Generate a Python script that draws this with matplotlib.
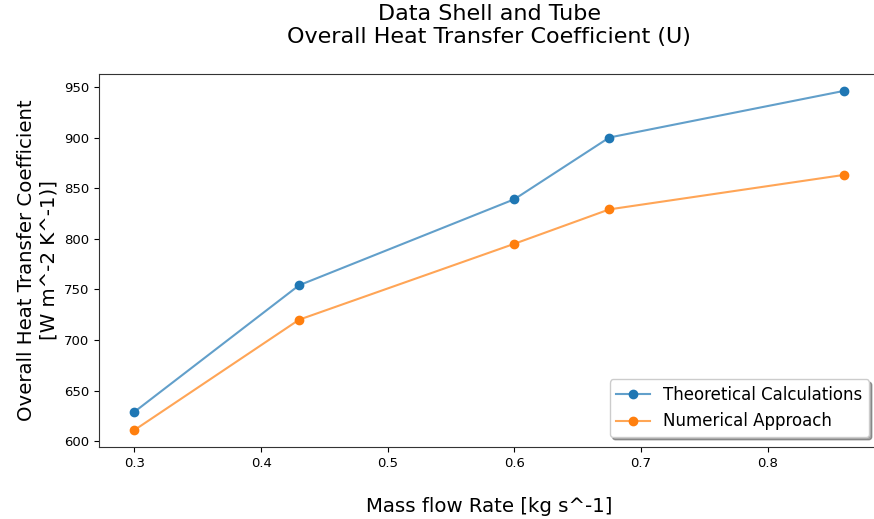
import matplotlib
matplotlib.use("Agg")
import matplotlib.pyplot as plt
from matplotlib.lines import Line2D

mass_flow = [0.30, 0.43, 0.60, 0.675, 0.86]
u_theoretical = [629, 754, 839, 900, 946]
u_numerical = [611, 720, 795, 829, 863]

fig = plt.figure(figsize=(8.74, 5.19), dpi=100)
ax = fig.add_axes([99/874, 1-447/519, 780/874, 373/519])

ax.plot(mass_flow, u_theoretical, color="#1f77b4", alpha=0.7, lw=1.5)
ax.plot(mass_flow, u_numerical, color="#ff7f0e", alpha=0.7, lw=1.5)
ax.plot(mass_flow, u_theoretical, "o", color="#1f77b4", ms=6)
ax.plot(mass_flow, u_numerical, "o", color="#ff7f0e", ms=6)

h1 = Line2D([], [], color=(0.12, 0.47, 0.71, 0.7), marker="o", ms=6, lw=1.5,
            markerfacecolor="#1f77b4", markeredgecolor="#1f77b4")
h2 = Line2D([], [], color=(1.0, 0.5, 0.05, 0.7), marker="o", ms=6, lw=1.5,
            markerfacecolor="#ff7f0e", markeredgecolor="#ff7f0e")
ax.legend([h1, h2], ["Theoretical Calculations", "Numerical Approach"],
          loc="lower right", shadow=True, fontsize=12, borderaxespad=0.6)

ax.set_xticks([0.3, 0.4, 0.5, 0.6, 0.7, 0.8])
ax.tick_params(labelsize=9.5)
ax.set_title("Data Shell and Tube\nOverall Heat Transfer Coefficient (U)",
             fontsize=16, pad=22)
ax.set_xlabel("Mass flow Rate [kg s^-1]", fontsize=14.2, labelpad=20)
ax.set_ylabel("Overall Heat Transfer Coefficient\n[W m^-2 K^-1)]", fontsize=14.2)
for s in ax.spines.values():
    s.set_color("#333333")
ax.spines["right"].set_visible(False)

fig.savefig("out.png", dpi=100)
